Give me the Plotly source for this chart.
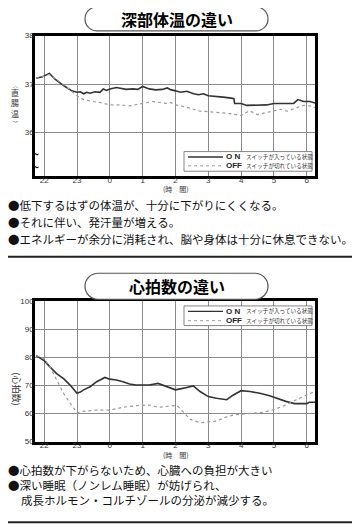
import plotly.graph_objects as go

W, H = 360, 530
OFF_PX = 8  # page body margin in the viewer; compensate so content lands where the reference has it
JP = "Noto Sans CJK JP"
NUM = "Liberation Sans"

# ---------------- data ----------------
# x = hours elapsed since 22:00
hour_ticks = [0, 1, 2, 3, 4, 5, 6, 7, 8]
hour_labels = ["22", "23", "0", "1", "2", "3", "4", "5", "6"]

temp_on_t = [-0.25, -0.05, 0.16, 0.33, 0.59, 0.84, 1.0, 1.1, 1.2, 1.3, 1.4, 1.55, 1.7, 1.8, 1.9,
             2.0, 2.2, 2.4, 2.5, 2.7, 2.85, 3.0, 3.2, 3.4, 3.6, 3.75, 3.85, 4.0, 4.15, 4.35,
             4.55, 4.7, 4.85, 5.0, 5.25, 5.45, 5.7, 5.78, 5.8, 6.0, 6.17, 6.45, 6.77, 7.0,
             7.3, 7.6, 7.73, 7.9, 8.1, 8.25]
temp_on = [37.12, 37.15, 37.22, 37.10, 36.97, 36.86, 36.83, 36.84, 36.80, 36.83, 36.81, 36.84,
           36.83, 36.90, 36.87, 36.90, 36.93, 36.90, 36.89, 36.90, 36.89, 36.95, 36.90, 36.88,
           36.89, 36.92, 36.885, 36.86, 36.83, 36.85, 36.80, 36.78, 36.80, 36.76, 36.75, 36.73,
           36.71, 36.70, 36.60, 36.60, 36.56, 36.57, 36.57, 36.60, 36.60, 36.60, 36.68, 36.64,
           36.64, 36.61]

temp_off_t = [-0.25, -0.05, 0.16, 0.33, 0.55, 0.7, 1.0, 1.2, 1.5, 1.7, 2.0, 2.3, 2.6, 2.8, 3.0,
              3.3, 3.5, 3.73, 3.85, 4.0, 4.3, 4.45, 4.75, 5.0, 5.35, 5.66, 6.0, 6.25, 6.5, 6.8,
              7.0, 7.2, 7.4, 7.7, 7.9, 8.1, 8.25]
temp_off = [37.12, 37.15, 37.20, 37.12, 37.00, 36.93, 36.76, 36.68, 36.64, 36.62, 36.57, 36.57,
            36.55, 36.58, 36.60, 36.64, 36.62, 36.60, 36.62, 36.57, 36.53, 36.50, 36.44, 36.43,
            36.41, 36.39, 36.35, 36.45, 36.37, 36.42, 36.44, 36.48, 36.44, 36.52, 36.56, 36.55,
            36.51]

hr_on_t = [-0.25, 0.0, 0.18, 0.38, 0.59, 0.79, 1.0, 1.1, 1.2, 1.4, 1.6, 1.85, 2.0, 2.2, 2.4,
           2.6, 2.8, 3.0, 3.2, 3.47, 3.7, 3.85, 4.0, 4.25, 4.54, 4.75, 5.0, 5.25, 5.56, 5.75,
           6.0, 6.27, 6.57, 6.87, 7.16, 7.36, 7.63, 8.0, 8.08, 8.25]
hr_on = [80.6, 78.8, 76.5, 74.2, 72.4, 70.1, 67.2, 67.6, 68.4, 69.5, 71.3, 72.8, 72.2, 71.9,
         71.3, 70.5, 70.1, 70.0, 70.1, 70.7, 69.8, 69.0, 68.4, 69.0, 69.8, 67.8, 66.0, 65.4,
         64.9, 66.5, 68.1, 67.8, 67.2, 66.3, 65.1, 64.3, 63.5, 63.5, 64.0, 64.0]

hr_off_t = [-0.25, 0.0, 0.18, 0.38, 0.59, 0.79, 1.0, 1.2, 1.6, 2.0, 2.4, 2.82, 3.0, 3.2, 3.47,
            3.73, 3.98, 4.05, 4.25, 4.45, 4.75, 5.0, 5.25, 5.56, 5.86, 6.0, 6.37, 6.67, 7.0,
            7.28, 7.58, 7.88, 8.23]
hr_off = [80.6, 79.5, 76.5, 71.9, 67.2, 63.7, 60.2, 60.8, 61.2, 61.2, 62.2, 62.8, 63.0, 63.0,
          62.2, 62.6, 62.8, 62.8, 60.2, 57.9, 56.7, 57.0, 57.3, 58.8, 59.7, 59.7, 60.2, 60.4,
          61.4, 62.6, 64.3, 66.0, 67.8]

series_names = ["ON", "OFF"]
legend_bold = ["O N", "OFF"]
legend_small = ["スイッチが入っている状態", "スイッチが切れている状態"]

titles = ["深部体温の違い", "心拍数の違い"]
notes1 = ["●低下するはずの体温が、十分に下がりにくくなる。",
          "●それに伴い、発汗量が増える。",
          "●エネルギーが余分に消耗され、脳や身体は十分に休息できない。"]
notes2 = ["●心拍数が下がらないため、心臓への負担が大きい",
          "●深い睡眠（ノンレム睡眠）が妨げられ、",
          "成長ホルモン・コルチゾールの分泌が減少する。"]


def px(x):
    return (x - OFF_PX) / W


def py(y):
    return 1 - (y - OFF_PX) / H


ON_STYLE = dict(color="#333333", width=1.6)
OFF_STYLE = dict(color="#9a9a9a", width=1.2, dash="dot")

fig = go.Figure()
fig.add_trace(go.Scatter(x=temp_on_t, y=temp_on, mode="lines", line=ON_STYLE,
                         name=series_names[0], xaxis="x", yaxis="y", showlegend=False))
fig.add_trace(go.Scatter(x=temp_off_t, y=temp_off, mode="lines", line=OFF_STYLE,
                         name=series_names[1], xaxis="x", yaxis="y", showlegend=False))
fig.add_trace(go.Scatter(x=hr_on_t, y=hr_on, mode="lines", line=ON_STYLE,
                         name=series_names[0], xaxis="x2", yaxis="y2", showlegend=False))
fig.add_trace(go.Scatter(x=hr_off_t, y=hr_off, mode="lines", line=OFF_STYLE,
                         name=series_names[1], xaxis="x2", yaxis="y2", showlegend=False))

xdom = [px(35), px(315)]
common_x = dict(domain=xdom, range=[-0.28, 8.25], tickvals=hour_ticks, ticktext=hour_labels,
                showgrid=True, gridcolor="#8a8a8a", gridwidth=1, zeroline=False,
                showline=True, linecolor="black", linewidth=2.5, mirror=True, ticks="",
                ticklabelstandoff=-6,
                tickfont=dict(family=NUM, size=8, color="#333"), fixedrange=True)
common_y = dict(showgrid=True, gridcolor="#8a8a8a", gridwidth=1, zeroline=False,
                showline=True, linecolor="black", linewidth=2.5, mirror=True, ticks="",
                ticklabelstandoff=-3,
                tickfont=dict(family=NUM, size=8, color="#333"), fixedrange=True)

fig.update_layout(
    width=W, height=H, margin=dict(l=0, r=0, t=0, b=0),
    paper_bgcolor="white", plot_bgcolor="white", showlegend=False,
    xaxis=dict(**common_x, anchor="y"),
    yaxis=dict(**common_y, domain=[py(175), py(32)], range=[35.1, 38],
               tickvals=[36, 37, 38], anchor="x"),
    xaxis2=dict(**common_x, anchor="y2"),
    yaxis2=dict(**common_y, domain=[py(445), py(302)], range=[50, 100],
                tickvals=[50, 60, 70, 80, 90, 100], anchor="x2"),
)


def stadium(w, h):
    a = w / 2 - h / 2
    r = h / 2
    k = 0.5523 * r
    return (f"M {-a},{-r} L {a},{-r} C {a + k},{-r} {a + r},{-k} {a + r},0 "
            f"C {a + r},{k} {a + k},{r} {a},{r} L {-a},{r} "
            f"C {-a - k},{r} {-a - r},{k} {-a - r},0 C {-a - r},{-k} {-a - k},{-r} {-a},{-r} Z")


shapes = []
annotations = []

# title boxes
for (cy, hh, txt) in [(15, 24, titles[0]), (287, 26, titles[1])]:
    shapes.append(dict(type="path", xref="paper", yref="paper", xsizemode="pixel",
                       ysizemode="pixel", xanchor=px(176.5), yanchor=py(cy),
                       path=stadium(183, hh), line=dict(color="#555", width=1.2),
                       fillcolor="white", layer="above"))
    annotations.append(dict(x=px(177), y=py(cy), xref="paper", yref="paper",
                            text=f"<b>{txt}</b>", showarrow=False,
                            font=dict(family=JP, size=16, color="black"),
                            xanchor="center", yanchor="middle"))

# legends
for (top, bottom, rows) in [(150, 170, (155.5, 164.5)), (307, 327, (312.5, 322))]:
    shapes.append(dict(type="rect", xref="paper", yref="paper", x0=px(184), x1=px(312),
                       y0=py(bottom), y1=py(top), line=dict(color="#666", width=0.8),
                       fillcolor="white", layer="above"))
    for i, ry in enumerate(rows):
        st = ON_STYLE if i == 0 else OFF_STYLE
        shapes.append(dict(type="line", xref="paper", yref="paper", x0=px(188), x1=px(223),
                           y0=py(ry), y1=py(ry),
                           line=dict(color=st["color"], width=st["width"] * 0.8,
                                     dash=st.get("dash", "solid")), layer="above"))
        annotations.append(dict(x=px(225), y=py(ry), xref="paper", yref="paper",
                                text=f"<b>{legend_bold[i]}</b>", showarrow=False,
                                font=dict(family=NUM, size=8, color="#222"),
                                xanchor="left", yanchor="middle", borderpad=0))
        annotations.append(dict(x=px(245), y=py(ry), xref="paper", yref="paper",
                                text=legend_small[i], showarrow=False,
                                font=dict(family=JP, size=5.6, color="#333"),
                                xanchor="left", yanchor="middle", borderpad=0))

# axis titles
for yy in [188.5, 458.5]:
    annotations.append(dict(x=px(176), y=py(yy), xref="paper", yref="paper",
                            text="(時　間)", showarrow=False,
                            font=dict(family=JP, size=7, color="#333"),
                            xanchor="center", yanchor="middle", borderpad=0))
annotations.append(dict(x=px(15), y=py(101), xref="paper", yref="paper",
                        text="直<br>腸<br>温", showarrow=False,
                        font=dict(family=JP, size=8, color="#333"),
                        xanchor="center", yanchor="middle", borderpad=0))
annotations.append(dict(x=px(15), y=py(82), xref="paper", yref="paper", text="︵",
                        showarrow=False, font=dict(family=JP, size=5, color="#333"),
                        xanchor="center", yanchor="middle", borderpad=0))
annotations.append(dict(x=px(15), y=py(120), xref="paper", yref="paper", text="︶",
                        showarrow=False, font=dict(family=JP, size=5, color="#333"),
                        xanchor="center", yanchor="middle", borderpad=0))
annotations.append(dict(x=px(17), y=py(391), xref="paper", yref="paper", text="(心拍数)",
                        textangle=90, showarrow=False,
                        font=dict(family=JP, size=9, color="#333"),
                        xanchor="center", yanchor="middle", borderpad=0))

# axis break marks
for yy in [152.5, 166]:
    annotations.append(dict(x=px(36), y=py(yy), xref="paper", yref="paper", text="<b>~</b>",
                            showarrow=False, font=dict(family=NUM, size=10, color="black"),
                            xanchor="center", yanchor="middle", borderpad=0))

# notes
for (lines, ys, xs) in [(notes1, [204, 222, 239], [7, 7, 7]),
                        (notes2, [474, 489.5, 504], [7, 7, 19.5])]:
    for t, yy, xx in zip(lines, ys, xs):
        annotations.append(dict(x=px(xx), y=py(yy), xref="paper", yref="paper", text=t,
                                showarrow=False, font=dict(family=JP, size=11.5, color="#111"),
                                xanchor="left", yanchor="middle", borderpad=0))

# separator rules
for yy in [257, 527]:
    shapes.append(dict(type="line", xref="paper", yref="paper", x0=0, x1=1,
                       y0=py(yy), y1=py(yy), line=dict(color="#222", width=2)))

fig.update_layout(shapes=shapes, annotations=annotations)
fig.write_html("out.html")
